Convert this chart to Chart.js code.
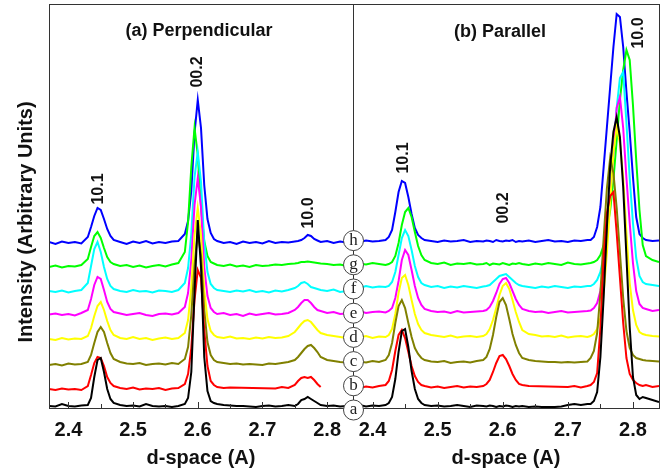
<!DOCTYPE html>
<html>
<head>
<meta charset="utf-8">
<script src="https://cdn.jsdelivr.net/npm/chart.js@4.4.0/dist/chart.umd.min.js"></script>
<style>
  html, body { margin: 0; padding: 0; background: #fff; }
  #wrap { position: relative; width: 668px; height: 474px; overflow: hidden; }
  canvas { position: absolute; top: 0; }
  #left { left: 0; }
  #right { left: 340px; }
</style>
</head>
<body>
<div id="wrap">
  <canvas id="left" width="360" height="474"></canvas>
  <canvas id="right" width="328" height="474"></canvas>
</div>
<script>
// d-space grids (A), denser around the peaks
const dL = [2.37, 2.38, 2.39, 2.40, 2.41, 2.42, 2.43, 2.435, 2.44, 2.445, 2.45, 2.455, 2.46, 2.465, 2.47,
    2.48, 2.49, 2.50, 2.51, 2.52, 2.53, 2.54, 2.55, 2.56, 2.57, 2.58, 2.585, 2.59, 2.595, 2.60, 2.605, 2.61,
    2.615, 2.62, 2.625, 2.63, 2.64, 2.65, 2.66, 2.67, 2.68, 2.69, 2.70, 2.71, 2.72, 2.73, 2.74, 2.75, 2.755,
    2.76, 2.765, 2.77, 2.775, 2.78, 2.785, 2.79, 2.80, 2.81, 2.82, 2.83, 2.84];
const dR = [2.37, 2.38, 2.39, 2.40, 2.41, 2.42, 2.425, 2.43, 2.435, 2.44, 2.445, 2.45, 2.455, 2.46, 2.465,
    2.47, 2.475, 2.48, 2.49, 2.50, 2.51, 2.52, 2.53, 2.54, 2.55, 2.56, 2.57, 2.575, 2.58, 2.585, 2.59, 2.595,
    2.60, 2.605, 2.61, 2.615, 2.62, 2.625, 2.63, 2.64, 2.65, 2.66, 2.67, 2.68, 2.69, 2.70, 2.71, 2.72, 2.73,
    2.735, 2.74, 2.745, 2.75, 2.755, 2.76, 2.765, 2.77, 2.775, 2.78, 2.785, 2.79, 2.795, 2.80, 2.805, 2.81,
    2.815, 2.82, 2.83, 2.84];

const traceNames = ['a', 'b', 'c', 'd', 'e', 'f', 'g', 'h'];
const traceColors = ['#000000', '#ff0000', '#808000', '#ffff00', '#ff00ff', '#00ffff', '#00ff00', '#0000ff'];

// (a) Perpendicular - intensity above each trace's own baseline
const perpA = [0.1, 0.05, 0.3, 0.1, 0.05, 0.15, 0.2, 0.9, 3.0, 4.7, 4.9, 3.5, 1.8, 0.8, 0.4,
    0.2, 0.1, 0.15, 0.05, 0.3, 0.1, 0.05, 0.1, 0.0, 0.1, 0.3, 0.9, 3.5, 11.5, 18.7, 14.0, 5.0, 1.6, 0.6, 0.4,
    0.3, 0.2, 0.15, 0.1, 0.1, 0.05, 0.0, 0.1, 0.15, 0.05, 0.1, 0.2, 0.1, 0.3, 0.7, 0.8, 1.0, 0.8, 0.6, 0.4,
    0.2, 0.1, 0.15, 0.05, 0.1, 0.0];
const perpB = [0.1, 0.0, 0.15, 0.05, 0.1, 0.0, 0.4, 1.5, 2.7, 3.3, 3.2, 2.4, 1.3, 0.7, 0.4,
    0.2, 0.1, 0.25, 0.05, 0.15, 0.1, 0.2, 0.0, 0.15, 0.2, 0.6, 1.6, 4.2, 9.0, 12.0, 11.2, 6.0, 2.4, 0.9, 0.5,
    0.3, 0.2, 0.25, null, null, null, null, null, null, 0.15, 0.3, 0.2, 0.5, 0.9, 1.2, 1.3, 1.2, 1.3, 1.0, 0.6,
    0.3, null, null, null, null, null];
const perpC = [0.0, 0.1, -0.05, 0.15, 0.05, 0.1, 0.3, 1.0, 2.2, 3.3, 3.8, 3.3, 2.2, 1.2, 0.6,
    0.3, 0.15, 0.1, 0.2, 0.0, 0.1, 0.15, 0.05, 0.2, 0.1, 0.6, 1.8, 5.0, 10.0, 13.2, 11.0, 5.5, 2.3, 1.0, 0.5,
    0.3, 0.2, 0.1, 0.15, 0.05, 0.1, 0.05, 0.0, 0.15, 0.1, 0.2, 0.3, 0.5, 0.8, 1.2, 1.6, 1.9, 2.0, 1.7, 1.3,
    0.8, 0.5, 0.4, 0.3, 0.25, 0.2];
const perpD = [0.1, 0.0, 0.2, 0.05, 0.15, 0.1, 0.4, 1.2, 2.4, 3.4, 3.8, 3.0, 1.9, 1.0, 0.5,
    0.2, 0.1, 0.3, 0.1, 0.2, 0.0, 0.15, 0.25, 0.1, 0.2, 0.7, 2.0, 5.2, 10.5, 13.2, 10.5, 5.0, 2.1, 0.9, 0.5,
    0.3, 0.2, 0.35, 0.15, 0.2, 0.1, 0.25, 0.15, 0.3, 0.2, 0.25, 0.4, 0.8, 1.2, 1.6, 1.9, 2.0, 1.8, 1.4, 1.0,
    0.7, 0.5, 0.4, 0.3, 0.2, 0.2];
const perpE = [0.05, 0.15, 0.0, 0.1, -0.05, 0.2, 0.5, 1.6, 3.0, 3.8, 3.6, 2.5, 1.3, 0.6, 0.3,
    0.15, 0.0, 0.1, 0.2, 0.0, -0.1, 0.1, 0.15, 0.05, 0.2, 0.8, 2.2, 5.5, 11.0, 13.7, 10.8, 4.8, 1.9, 0.7, 0.3,
    0.1, 0.2, 0.0, 0.1, -0.1, 0.15, 0.0, 0.1, 0.2, 0.05, 0.1, 0.2, 0.5, 0.8, 1.2, 1.5, 1.5, 1.2, 0.8, 0.5,
    0.4, 0.2, 0.3, 0.1, 0.15, 0.05];
const perpF = [0.1, 0.0, 0.15, -0.05, 0.1, 0.2, 0.9, 2.6, 4.3, 5.0, 4.0, 2.5, 1.3, 0.6, 0.3,
    0.1, 0.0, 0.2, 0.05, 0.1, -0.05, 0.15, 0.1, 0.0, 0.2, 0.9, 2.4, 5.8, 11.5, 14.0, 11.0, 5.0, 2.0, 0.8, 0.4,
    0.2, 0.1, 0.0, 0.15, 0.05, 0.2, 0.0, 0.1, -0.05, 0.15, 0.05, 0.2, 0.4, 0.6, 0.9, 1.0, 0.8, 0.5, 0.4, 0.3,
    0.2, 0.1, 0.25, 0.0, 0.1, 0.05];
const perpG = [0.0, 0.15, -0.05, 0.1, 0.05, 0.2, 0.8, 2.0, 3.1, 3.5, 2.9, 1.9, 1.0, 0.5, 0.3,
    0.1, 0.2, 0.0, 0.15, -0.05, 0.1, 0.2, 0.05, 0.25, 0.4, 1.5, 4.5, 10.0, 13.9, 11.2, 6.0, 2.6, 1.1, 0.5, 0.35,
    0.2, 0.1, 0.25, 0.05, 0.15, 0.0, 0.2, 0.1, 0.15, 0.25, 0.2, 0.3, 0.35, 0.4, 0.5, 0.5, 0.55, 0.5, 0.45, 0.4,
    0.35, 0.3, 0.2, 0.25, 0.1, 0.15];
const perpH = [0.1, -0.1, 0.15, 0.0, 0.1, -0.05, 0.6, 1.6, 2.7, 3.5, 3.3, 2.4, 1.4, 0.7, 0.3,
    0.1, -0.1, 0.15, 0.0, 0.2, -0.05, 0.1, 0.0, 0.15, 0.2, 0.9, 2.2, 5.2, 11.0, 14.3, 11.5, 5.8, 2.4, 1.0, 0.4,
    0.2, 0.0, 0.1, -0.1, 0.15, 0.0, 0.1, -0.05, 0.2, 0.0, 0.1, 0.05, 0.15, 0.2, 0.3, 0.5, 0.8, 0.7, 0.4, 0.25,
    0.1, 0.2, 0.0, 0.15, 0.05, 0.1];

// (b) Parallel
const parA = [0.1, 0.2, 0.05, 0.15, 0.1, 0.2, 0.4, 1.0, 2.8, 5.5, 7.6, 7.8, 6.0, 3.6, 1.8, 0.8, 0.4,
    0.2, 0.1, 0.15, 0.05, 0.1, 0.2, 0.1, 0.0, 0.15, 0.1,
    0.05, 0.15, 0.1, 0.0, 0.1, 0.05, 0.15, 0.1, 0.0, 0.1, 0.05,
    0.1, 0.0, 0.05, 0.0, 0.0, 0.0, 0.05, 0.2, 0.3, 0.2, 0.3,
    0.3, 0.6, 1.5, 5.0, 11.0, 18.0, 24.0, 27.5, 29.0, 27.0, 22.0, 15.0, 8.0, 3.0, 1.2, 0.8, 1.0, 0.9, 0.7, 0.5];
const parB = [0.1, 0.0, 0.15, 0.05, 0.2, 0.3, 0.7, 1.8, 3.7, 5.3, 5.8, 5.0, 3.6, 2.2, 1.2, 0.6, 0.3,
    0.2, 0.05, 0.15, 0.0, 0.1, 0.2, 0.05, 0.15, 0.1, 0.2,
    0.4, 0.8, 1.6, 2.5, 3.2, 3.3, 2.9, 2.2, 1.4, 0.8, 0.4,
    0.3, 0.2, null, null, null, null, null, 0.1, 0.2, 0.05, 0.2,
    0.3, 0.6, 1.5, 6.0, 13.0, 17.5, 19.2, 19.6, 15.5, 11.0, 6.5, 3.0, 1.4, 0.8, 0.5, 0.3, 0.2, 0.3, 0.1, 0.2];
const parC = [0.0, 0.15, 0.05, 0.2, 0.1, 0.3, 0.8, 2.0, 4.0, 5.7, 6.3, 5.5, 4.0, 2.6, 1.5, 0.9, 0.5,
    0.3, 0.15, 0.1, 0.2, 0.0, 0.1, 0.15, 0.05, 0.2, 0.3,
    0.6, 1.4, 2.8, 4.6, 6.1, 6.5, 5.8, 4.4, 2.9, 1.8, 1.0,
    0.5, 0.3, 0.2, 0.15, 0.1, 0.1, 0.05, 0.1, 0.05, 0.1, 0.15,
    0.5, 1.2, 3.0, 7.0, 12.5, 17.5, 20.5, 19.0, 15.5, 11.0, 6.5, 3.2, 1.5, 0.8, 0.5, 0.4, 0.3, 0.25, 0.2, 0.15];
const parD = [0.1, 0.05, 0.2, 0.0, 0.15, 0.1, 0.3, 0.9, 2.4, 4.5, 6.0, 6.3, 5.3, 3.8, 2.4, 1.4, 0.8,
    0.5, 0.3, 0.2, 0.1, 0.25, 0.05, 0.15, 0.2, 0.1, 0.2,
    0.4, 0.9, 1.8, 3.0, 4.3, 5.2, 5.5, 4.9, 3.8, 2.6, 1.6,
    0.8, 0.4, 0.3, 0.15, 0.2, 0.1, 0.25, 0.05, 0.15, 0.2, 0.1,
    0.2, 0.4, 0.9, 2.0, 4.5, 8.5, 13.5, 18.5, 21.1, 19.5, 16.0, 10.5, 5.5, 2.8, 1.3, 0.6, 0.4, 0.3, 0.2, 0.15];
const parE = [0.05, 0.2, 0.0, 0.1, 0.15, 0.05, 0.2, 0.5, 1.5, 3.2, 5.3, 6.3, 5.8, 4.3, 2.7, 1.5, 0.8,
    0.4, 0.2, 0.1, 0.15, 0.0, 0.2, 0.05, 0.1, 0.15, 0.2,
    0.3, 0.6, 1.2, 2.0, 2.9, 3.4, 3.5, 3.0, 2.2, 1.4, 0.8,
    0.4, 0.2, 0.1, 0.15, 0.0, 0.1, 0.2, 0.05, 0.1, 0.15, 0.2,
    0.25, 0.5, 1.0, 2.2, 4.5, 7.5, 11.5, 16.0, 20.5, 21.6, 18.5, 13.5, 9.0, 5.0, 2.2, 0.9, 0.5, 0.4, 0.2, 0.3];
const parF = [0.1, 0.0, 0.2, 0.05, 0.15, 0.1, 0.2, 0.6, 1.6, 3.3, 5.0, 5.8, 5.2, 3.8, 2.2, 1.1, 0.5,
    0.3, 0.1, 0.2, 0.0, 0.15, 0.05, 0.2, 0.1, 0.0, 0.15,
    0.2, 0.3, 0.6, 0.9, 1.2, 1.3, 1.4, 1.1, 0.8, 0.5, 0.3,
    0.2, 0.1, 0.0, 0.15, 0.05, 0.2, 0.1, 0.0, 0.15, 0.1, 0.2,
    0.2, 0.4, 0.8, 1.6, 3.2, 5.5, 9.0, 13.5, 18.0, 21.0, 21.6, 16.5, 11.0, 6.5, 3.0, 1.2, 0.6, 0.4, 0.3, 0.2];
const parG = [0.0, 0.15, 0.05, 0.2, 0.1, 0.0, 0.1, 0.3, 0.9, 2.2, 4.0, 5.3, 5.7, 4.8, 3.3, 1.9, 1.0,
    0.5, 0.2, 0.1, 0.25, 0.0, 0.15, 0.1, 0.2, 0.05, 0.1,
    0.2, 0.0, 0.15, 0.1, 0.05, 0.2, 0.1, 0.0, 0.15, 0.1, 0.2,
    0.1, 0.0, 0.15, 0.05, 0.2, 0.1, 0.0, 0.25, 0.1, 0.05, 0.15,
    0.2, 0.3, 0.5, 1.0, 2.0, 3.5, 5.5, 8.5, 12.5, 16.5, 19.5, 21.5, 20.5, 16.0, 10.5, 5.5, 2.0, 0.9, 0.5, 0.3];
const parH = [0.1, 0.0, 0.15, 0.05, 0.1, 0.2, 0.5, 1.2, 3.0, 5.0, 6.1, 5.9, 4.5, 2.8, 1.4, 0.7, 0.4,
    0.2, 0.1, 0.0, 0.15, 0.05, 0.1, 0.2, 0.0, 0.1, 0.05,
    0.15, 0.1, 0.0, 0.2, 0.1, 0.05, 0.15, 0.1, 0.2, 0.0, 0.1,
    0.05, 0.15, 0.0, 0.1, 0.2, 0.05, 0.1, 0.0, 0.15, 0.1, 0.2,
    0.2, 0.5, 1.5, 3.5, 7.5, 11.5, 15.5, 19.5, 22.8, 22.5, 19.5, 15.0, 11.0, 6.5, 2.5, 0.8, 0.4, 0.2, 0.1, 0.15];

// vertical stacking offsets for traces a..h
const offL = [0, 1.7, 4.2, 6.7, 9.2, 11.5, 14.0, 16.4];
const offR = [0, 1.9, 4.4, 6.9, 9.4, 11.9, 14.2, 16.5];

const tickVals = [2.4, 2.5, 2.6, 2.7, 2.8];
const minorVals = [2.4, 2.45, 2.5, 2.55, 2.6, 2.65, 2.7, 2.75, 2.8];

// peak labels: text, d-space, height
const peaksL = [['10.1', 2.447, 21.8], ['00.2', 2.600, 33.5], ['10.0', 2.772, 19.4]];
const peaksR = [['10.1', 2.448, 24.9], ['00.2', 2.602, 19.9], ['10.0', 2.809, 37.4]];

const SANS = '"Liberation Sans", Arial, sans-serif';

function makeDatasets(xs, series, offs) {
    return series.map((s, i) => ({
        label: traceNames[i],
        data: xs.map((x, j) => ({ x: x, y: s[j] === null ? null : s[j] + offs[i] })),
        borderColor: traceColors[i],
        borderWidth: 2,
        pointRadius: 0,
        tension: 0,
        spanGaps: true,
        fill: false
    }));
}

// frame, inner ticks, titles and labels
const panelPlugin = {
    id: 'panel',
    afterDatasetsDraw(chart, args, opts) {
        const { ctx, chartArea: a, scales: { x, y } } = chart;
        ctx.save();
        ctx.strokeStyle = '#333';
        ctx.lineWidth = 1;
        ctx.strokeRect(a.left + 0.5, a.top + 0.5, a.right - a.left, a.bottom - a.top);

        minorVals.forEach(v => {
            const px = Math.round(x.getPixelForValue(v)) + 0.5;
            const len = tickVals.includes(v) ? 6 : 4;
            ctx.beginPath();
            ctx.moveTo(px, a.bottom);
            ctx.lineTo(px, a.bottom - len);
            ctx.stroke();
        });

        ctx.fillStyle = '#111';
        ctx.textAlign = 'center';
        ctx.textBaseline = 'middle';
        ctx.font = 'bold 18px ' + SANS;
        ctx.fillText(opts.title, opts.titleX, opts.titleY);

        ctx.font = 'bold 16px ' + SANS;
        opts.peaks.forEach(p => {
            ctx.save();
            ctx.translate(x.getPixelForValue(p[1]), y.getPixelForValue(p[2]));
            ctx.rotate(-Math.PI / 2);
            ctx.fillText(p[0], 0, 0);
            ctx.restore();
        });

        if (opts.yTitle) {
            ctx.save();
            ctx.translate(26, 222);
            ctx.rotate(-Math.PI / 2);
            ctx.font = 'bold 20px ' + SANS;
            ctx.fillText(opts.yTitle, 0, 0);
            ctx.restore();
        }

        if (opts.circles) {
            traceNames.forEach((n, i) => {
                const cy = a.bottom + 2 - i * 24.2;
                ctx.beginPath();
                ctx.arc(a.left + 0.5, cy, 10, 0, Math.PI * 2);
                ctx.fillStyle = '#fff';
                ctx.fill();
                ctx.strokeStyle = '#444';
                ctx.stroke();
                ctx.fillStyle = '#222';
                ctx.font = '17px "Liberation Serif", "Times New Roman", serif';
                ctx.fillText(n, a.left + 0.5, cy);
            });
        }
        ctx.restore();
    }
};

function makeChart(id, xs, series, offs, pad, panel) {
    return new Chart(document.getElementById(id), {
        type: 'line',
        data: { datasets: makeDatasets(xs, series, offs) },
        options: {
            responsive: false,
            animation: false,
            layout: { padding: pad },
            plugins: {
                legend: { display: false },
                tooltip: { enabled: false },
                panel: panel
            },
            scales: {
                x: {
                    type: 'linear',
                    min: 2.37,
                    max: 2.84,
                    afterFit: s => { s.height = 66; },
                    afterBuildTicks: s => { s.ticks = tickVals.map(v => ({ value: v })); },
                    grid: { display: false, drawTicks: false },
                    border: { display: false },
                    ticks: {
                        font: { family: SANS, size: 20, weight: 'bold' },
                        color: '#111',
                        padding: 10,
                        maxRotation: 0,
                        callback: v => v.toFixed(1)
                    },
                    title: {
                        display: true,
                        text: 'd-space (A)',
                        font: { family: SANS, size: 20, weight: 'bold' },
                        color: '#111',
                        padding: { top: 0, bottom: 4 }
                    }
                },
                y: { display: false, min: -0.1, max: 40.3 }
            }
        },
        plugins: [panelPlugin]
    });
}

makeChart('left', dL, [perpA, perpB, perpC, perpD, perpE, perpF, perpG, perpH], offL,
    { left: 49, right: 7, top: 4, bottom: 0 },
    { title: '(a) Perpendicular', titleX: 199, titleY: 31, peaks: peaksL,
      yTitle: 'Intensity (Arbitrary Units)', circles: false });

makeChart('right', dR, [parA, parB, parC, parD, parE, parF, parG, parH], offR,
    { left: 13, right: 9, top: 4, bottom: 0 },
    { title: '(b) Parallel', titleX: 160, titleY: 32, peaks: peaksR, circles: true });
</script>
</body>
</html>
